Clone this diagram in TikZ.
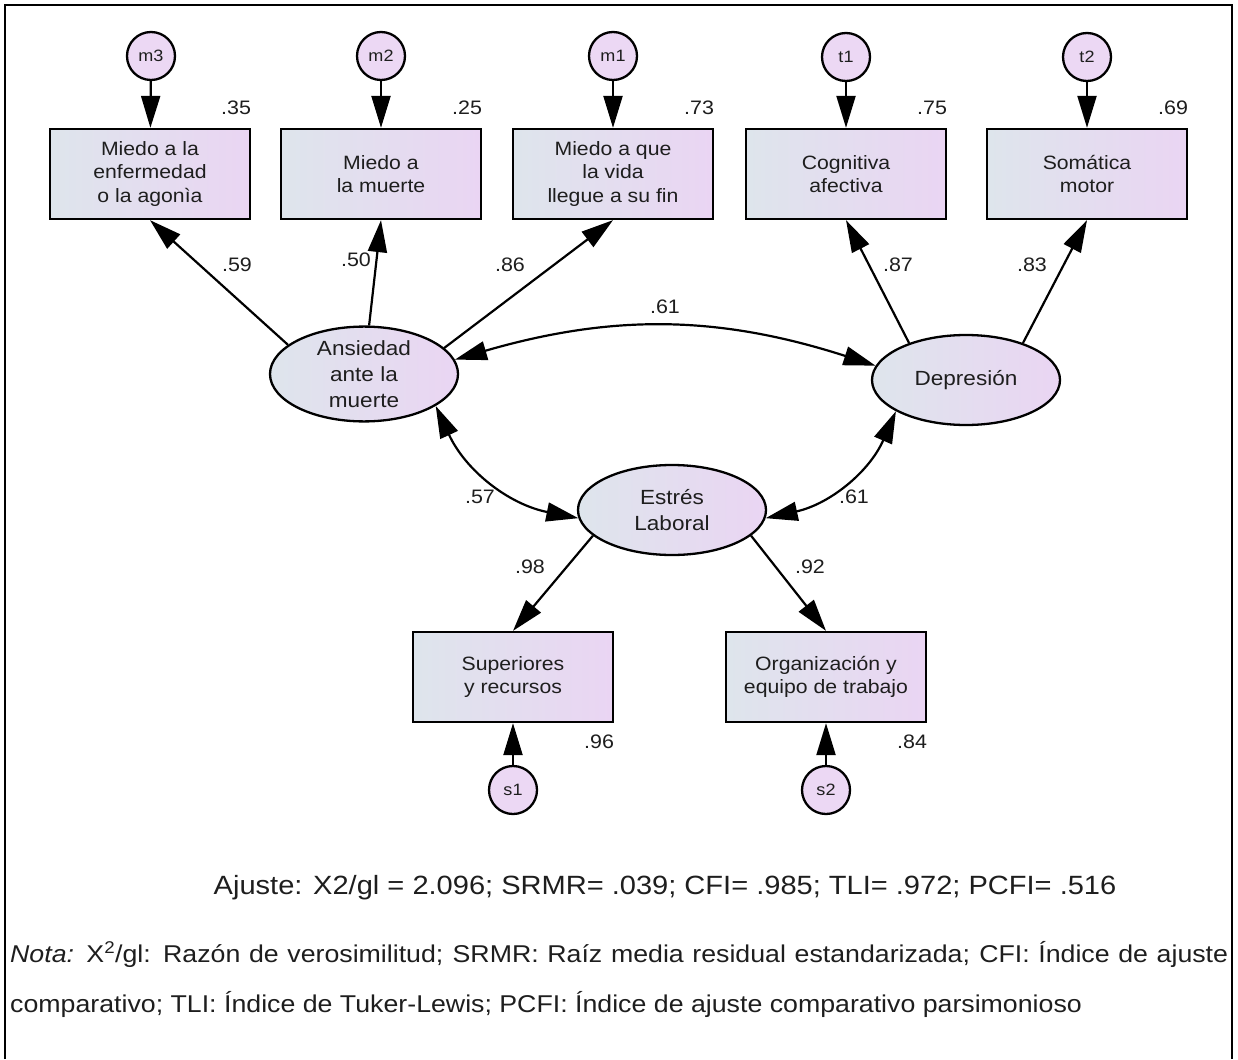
\documentclass[tikz,border=0pt]{standalone}
\usepackage{fontspec}
\setmainfont{Liberation Sans}[FakeStretch=1.1]
\usetikzlibrary{arrows.meta}
\usetikzlibrary{shapes.geometric}
\definecolor{boxleft}{RGB}{222,229,236}
\definecolor{boxright}{RGB}{234,213,243}
\definecolor{errfill}{RGB}{236,216,244}
\definecolor{txt}{RGB}{30,30,30}
\newcommand{\tipsize}{length=32pt, width=19pt}
\tikzset{
    observed/.style={draw, rectangle, line width=2.3pt, minimum width=200pt, minimum height=90pt,
        inner sep=0pt, left color=boxleft, right color=boxright, align=center, text=txt,
        font=\fontsize{19.3}{23.5}\selectfont},
    latent/.style={observed, ellipse, minimum width=188pt, minimum height=90pt,
        font=\fontsize{20.5}{26}\selectfont},
    errnode/.style={draw, circle, line width=2.3pt, minimum size=48pt, inner sep=0pt,
        fill=errfill, text=txt, font=\fontsize{16.4}{16}\selectfont},
    coef/.style={inner sep=0pt, text=txt, font=\fontsize{19.5}{20}\selectfont},
    effect/.style={-{Triangle[\tipsize]}, line width=2.2pt},
    covar/.style={{Triangle[\tipsize]}-{Triangle[\tipsize]}, line width=2.2pt}
}

\begin{document}
\begin{tikzpicture}[x=1pt, y=-1pt]
    \useasboundingbox (0,0) rectangle (1238,1059);
    \draw[line width=2pt] (5,1059) -- (5,5) -- (1232,5) -- (1232,1059);

    % indicadores
    \node[observed] (b1) at (150,174) {Miedo a la\\enfermedad\\o la agonìa};
    \node[observed] (b2) at (381,174) {Miedo a\\la muerte};
    \node[observed] (b3) at (613,174) {Miedo a que\\la vida\\llegue a su fin};
    \node[observed] (b4) at (846,174) {Cognitiva\\afectiva};
    \node[observed] (b5) at (1087,174) {Somática\\motor};
    \node[observed] (sup) at (513,677) {Superiores\\y recursos};
    \node[observed] (org) at (826,677) {Organización y\\equipo de trabajo};

    % errores
    \node[errnode] (m3) at (151,56) {m3};
    \node[errnode] (m2) at (381,56) {m2};
    \node[errnode] (m1) at (613,56) {m1};
    \node[errnode] (t1) at (846,57) {t1};
    \node[errnode] (t2) at (1087,57) {t2};
    \node[errnode] (s1) at (513,790) {s1};
    \node[errnode] (s2) at (826,790) {s2};

    % factores
    \node[latent] (ans) at (364,374) {Ansiedad\\ante la\\muerte};
    \node[latent] (dep) at (966,380) {Depresión};
    \node[latent] (est) at (672,510) {Estrés\\Laboral};

    % R2
    \node[coef, anchor=south east, yshift=13pt] (r-b1) at (b1.north east) {.35};
    \node[coef, anchor=south east, yshift=13pt] (r-b2) at (b2.north east) {.25};
    \node[coef, anchor=south east, yshift=13pt] (r-b3) at (b3.north east) {.73};
    \node[coef, anchor=south east, yshift=13pt] (r-b4) at (b4.north east) {.75};
    \node[coef, anchor=south east, yshift=13pt] (r-b5) at (b5.north east) {.69};
    \node[coef, anchor=north east, yshift=-12pt] (r-sup) at (sup.south east) {.96};
    \node[coef, anchor=north east, yshift=-12pt] (r-org) at (org.south east) {.84};

    \draw[effect] (m3) -- (b1);
    \draw[effect] (m2) -- (b2);
    \draw[effect] (m1) -- (b3);
    \draw[effect] (t1) -- (b4);
    \draw[effect] (t2) -- (b5);
    \draw[effect] (s1) -- (sup);
    \draw[effect] (s2) -- (org);

    \draw[effect] (ans.159) -- (b1.south);
    \draw[effect] (ans.84) -- (b2.south);
    \draw[effect] (ans.18) -- (b3.south);
    \draw[effect] (dep.147) -- (b4.south);
    \draw[effect] (dep.33) -- (b5.south);
    \draw[effect] (est.198) -- (sup.north);
    \draw[effect] (est.342) -- (org.north);

    \draw[covar] (ans.9) to[bend left=17] (dep.171);
    \draw[covar] (ans.336) to[bend right=27] (est.185);
    \draw[covar] (dep.204) to[bend left=27] (est.355);

    % cargas
    \node[coef] (l-b1) at (237,265) {.59};
    \node[coef] (l-b2) at (356,260) {.50};
    \node[coef] (l-b3) at (510,265) {.86};
    \node[coef] (l-b4) at (898,265) {.87};
    \node[coef] (l-b5) at (1032,265) {.83};
    \node[coef] (l-ad) at (665,307) {.61};
    \node[coef] (l-ae) at (480,497) {.57};
    \node[coef] (l-de) at (854,497) {.61};
    \node[coef] (l-sup) at (530,567) {.98};
    \node[coef] (l-org) at (810,567) {.92};

    \node[inner sep=0pt, text=txt, font=\fontsize{26.4}{26}\selectfont] (ajuste) at (665,888)
        {Ajuste: X2/gl = 2.096; SRMR= .039; CFI= .985; TLI= .972; PCFI= .516};
    \node[anchor=north west, inner sep=0pt, text width=1218pt, align=justify, text=txt,
        font=\fontsize{24.3}{50}\selectfont] (nota) at (10,941)
        {\textit{Nota:} X\textsuperscript{2}/gl: Razón de verosimilitud; SRMR: Raíz media residual estandarizada; CFI: Índice de ajuste comparativo; TLI: Índice de Tuker-Lewis; PCFI: Índice de ajuste comparativo parsimonioso};
\end{tikzpicture}
\end{document}
